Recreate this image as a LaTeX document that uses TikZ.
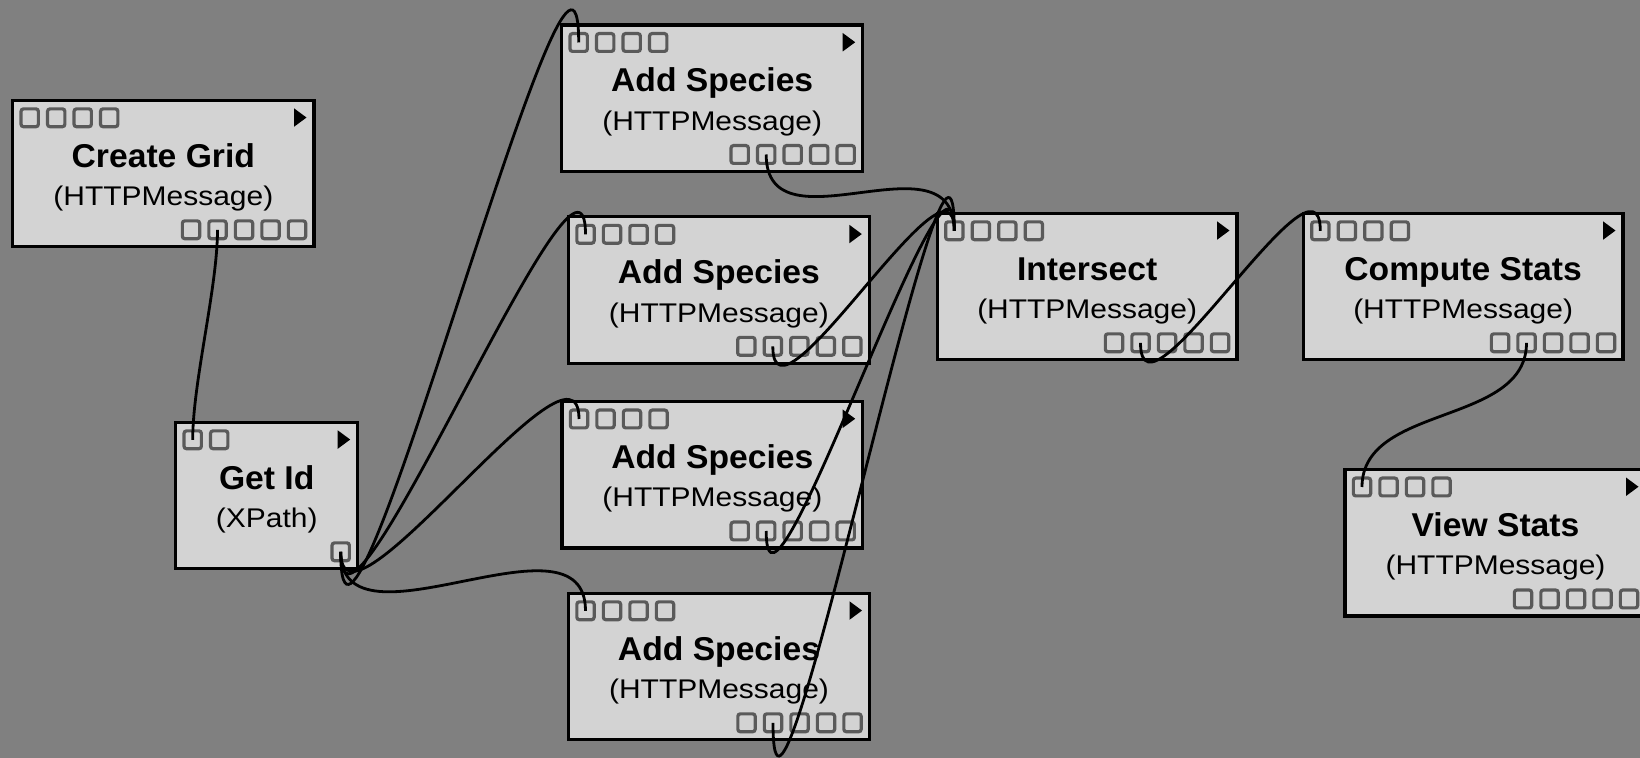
\documentclass[tikz,border=0pt]{standalone}
\usepackage{fontspec}
\setmainfont{Liberation Sans}
\newfontfamily\titlefont[FakeStretch=1.02]{Liberation Sans}
\newfontfamily\subfont[FakeStretch=1.11]{Liberation Sans}
\definecolor{bgcol}{HTML}{808080}
\definecolor{modfill}{HTML}{D3D3D3}
\definecolor{portline}{HTML}{5A5A5A}
\tikzset{
  modbox/.style={draw=black, fill=modfill, line width=1.6pt, inner sep=0pt, outer sep=0pt, rectangle},
  port/.style={draw=portline, fill=modfill, line width=1.6pt, minimum width=8.65pt, minimum height=8.9pt, inner sep=0pt, outer sep=0pt, rectangle, rounded corners=1.2pt},
  titletext/.style={font=\titlefont\bfseries\fontsize{16.5}{18}\selectfont, inner sep=0pt, text=black},
  subtext/.style={font=\subfont\fontsize{13.5}{15}\selectfont, inner sep=0pt, text=black},
  wire/.style={draw=black, line width=1.4pt},
  playtri/.style={fill=black},
}
% #1 name, #2 left, #3 top, #4 right, #5 title, #6 subtitle, #7 inputs, #8 outputs
\newcommand\mkmodule[8]{%
  \pgfmathsetmacro\mw{(#4-#2)*0.5}%
  \node[modbox, minimum width=\mw pt, minimum height=73.25pt] (#1) at ({(#2+#4)/2},{#3+73.25}) {};
  \node[titletext, anchor=base] (#1-title) at ({(#2+#4)/2},{#3+67}) {#5};
  \node[subtext, anchor=base] (#1-sub) at ({(#2+#4)/2},{#3+105.5}) {#6};
  \foreach \i in {1,...,#7} {\node[port] (#1-i\i) at ({#2+17+26.5*(\i-1)},{#3+17.5}) {};}
  \foreach \j in {1,...,#8} {\node[port] (#1-o\j) at ({#4-17-26.5*(#8-\j)},{#3+129.5}) {};}
  \fill[playtri] ({#4-20},{#3+8}) -- ({#4-20},{#3+26.5}) -- ({#4-7.5},{#3+17.25}) -- cycle;
}
% connection: cubic bezier between port centres, control points displaced vertically
\newcommand\mkconn[2]{%
  \pgfpointanchor{#1}{center}\pgfgetlastxy\cax\cay
  \pgfpointanchor{#2}{center}\pgfgetlastxy\cbx\cby
  \pgfmathsetmacro\cdy{\cby-\cay}%
  \pgfmathsetmacro\cdx{abs(\cbx-\cax)}%
  \pgfmathsetmacro\cw{abs(atan2(\cdy,\cdx))/90}%
  \pgfmathsetmacro\cd{\cdy>0 ? max(20,\cdy/2) : max(20,-\cdy/4)}%
  \pgfmathsetmacro\cv{\cw*\cd+(1-\cw)*60}%
  \draw[wire] (#1.center) .. controls ([yshift=-\cv pt]#1.center) and ([yshift=\cv pt]#2.center) .. (#2.center);
}
\begin{document}
\begin{tikzpicture}[x=0.5pt, y=-0.5pt]
\useasboundingbox (0,0) rectangle (1640,758);
\clip (0,0) rectangle (1640,758);
\fill[bgcol] (0,0) rectangle (1640,758);
\mkmodule{cg}{12.7}{100.3}{314}{Create Grid}{(HTTPMessage)}{4}{5}
\mkmodule{gi}{175.7}{422.3}{357.7}{Get Id}{(XPath)}{2}{1}
\mkmodule{as1}{561.7}{25}{862.7}{Add Species}{(HTTPMessage)}{4}{5}
\mkmodule{as2}{568.5}{216.8}{869.3}{Add Species}{(HTTPMessage)}{4}{5}
\mkmodule{as3}{562}{401.5}{862.7}{Add Species}{(HTTPMessage)}{4}{5}
\mkmodule{as4}{568.5}{593.3}{869.5}{Add Species}{(HTTPMessage)}{4}{5}
\mkmodule{isect}{937.3}{213.3}{1237}{Intersect}{(HTTPMessage)}{4}{5}
\mkmodule{cs}{1303.3}{213.3}{1623}{Compute Stats}{(HTTPMessage)}{4}{5}
\mkmodule{vs}{1345}{469.5}{1646}{View Stats}{(HTTPMessage)}{4}{5}
\mkconn{cg-o2}{gi-i1}
\mkconn{gi-o1}{as1-i1}
\mkconn{gi-o1}{as2-i1}
\mkconn{gi-o1}{as3-i1}
\mkconn{gi-o1}{as4-i1}
\mkconn{as1-o2}{isect-i1}
\mkconn{as2-o2}{isect-i1}
\mkconn{as3-o2}{isect-i1}
\mkconn{as4-o2}{isect-i1}
\mkconn{isect-o2}{cs-i1}
\mkconn{cs-o2}{vs-i1}
\end{tikzpicture}
\end{document}
